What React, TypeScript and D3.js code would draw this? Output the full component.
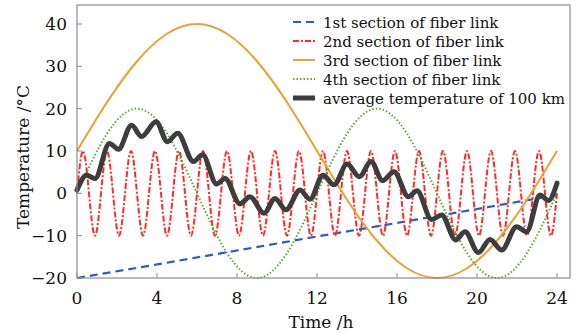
import { useMemo } from "react";
import * as d3 from "d3";

// section 1: slow linear drift (read every 4 h)
const blueTimes = [0, 4, 8, 12, 16, 20, 24];
const blueValues = [-20, -16.8, -13.5, -10.2, -7, -3.7, -0.4];

// section 2: fast oscillation, zero / peak / zero / trough every 0.3 h
const redValues = [
    0, 10, 0, -10, 0, 10, 0, -10, 0, 10, 0, -10, 0, 10, 0, -10, 0, 10, 0, -10,
    0, 10, 0, -10, 0, 10, 0, -10, 0, 10, 0, -10, 0, 10, 0, -10, 0, 10, 0, -10,
    0, 10, 0, -10, 0, 10, 0, -10, 0, 10, 0, -10, 0, 10, 0, -10, 0, 10, 0, -10,
    0, 10, 0, -10, 0, 10, 0, -10, 0, 10, 0, -10, 0, 10, 0, -10, 0, 10, 0, -10,
    0,
];
const redTimes = redValues.map((_, i) => i * 0.3);

// sections 3 and 4, read every 1.5 h
const slowTimes = [0, 1.5, 3, 4.5, 6, 7.5, 9, 10.5, 12, 13.5, 15, 16.5, 18, 19.5, 21, 22.5, 24];
const orangeValues = [10, 21.5, 31.2, 37.7, 40, 37.7, 31.2, 21.5, 10, -1.5, -11.2, -17.7, -20, -17.7, -11.2, -1.5, 10];
const greenValues = [0, 14.1, 20, 14.1, 0, -14.1, -20, -14.1, 0, 14.1, 20, 14.1, 0, -14.1, -20, -14.1, 0];

// average temperature, read at its turning points
const avgTimes = [
    0, 0.48, 0.9, 1.62, 2.07, 2.73, 3.23, 3.95, 4.52, 5.03, 5.82, 6.28, 6.98, 7.4, 8.15, 8.65,
    9.35, 9.9, 10.45, 11.15, 11.65, 12.3, 12.85, 13.5, 14.12, 14.7, 15.28, 15.85, 16.57, 17.0,
    17.73, 18.23, 18.93, 19.4, 20.07, 20.65, 21.23, 21.98, 22.48, 23.15, 23.57, 24,
];
const avgValues = [
    0.8, 4.3, 3.5, 11.8, 10.4, 16.1, 13.4, 16.9, 12.2, 14.2, 7.5, 9.1, 2.2, 3.5, -2.5, -0.8,
    -4.7, -1.2, -3.9, 0.8, -1.4, 4.3, 2.0, 6.9, 3.9, 7.5, 3.0, 5.1, -0.8, 0.6,
    -6.2, -5.1, -11.0, -9.1, -14.0, -10.9, -13.4, -7.9, -9.1, -0.4, -1.7, 2.4,
];

const xTicks = [0, 4, 8, 12, 16, 20, 24];
const yTicks = [-20, -10, 0, 10, 20, 30, 40];

const legendLabels = [
    "1st section of fiber link",
    "2nd section of fiber link",
    "3rd section of fiber link",
    "4th section of fiber link",
    "average temperature of 100 km",
];

const WIDTH = 576;
const HEIGHT = 333;
const FONT = "'DejaVu Serif', serif";

const styles = [
    { color: "#2b5bc6", width: 2.2, dash: "8,5" },
    { color: "#ff2a2a", width: 2, dash: "6,2,2,2" },
    { color: "#e9a233", width: 2, dash: "" },
    { color: "#5aab2e", width: 2, dash: "1.5,2" },
    { color: "#3d3d3d", width: 5, dash: "" },
];

const textStyle = { fontFamily: FONT, fill: "#111" };

export default function App() {
    const x = d3.scaleLinear().domain([0, 24]).range([77, 557]);
    const y = d3.scaleLinear().domain([-20, 40]).range([278, 24]);
    const frame = { left: 77, right: 570, top: 5, bottom: 278 };

    const paths = useMemo(() => {
        const mk = (curve: d3.CurveFactory) =>
            d3.line<[number, number]>().x((d) => x(d[0])).y((d) => y(d[1])).curve(curve);
        const zip = (t: number[], v: number[]) => t.map((ti, i) => [ti, v[i]] as [number, number]);
        return [
            mk(d3.curveLinear)(zip(blueTimes, blueValues)),
            mk(d3.curveNatural)(zip(redTimes, redValues)),
            mk(d3.curveNatural)(zip(slowTimes, orangeValues)),
            mk(d3.curveNatural)(zip(slowTimes, greenValues)),
            mk(d3.curveMonotoneX)(zip(avgTimes, avgValues)),
        ];
    }, []);

    return (
        <svg width={WIDTH} height={HEIGHT} style={{ position: "absolute", left: 0, top: 0, background: "#fff" }}>
            <rect x={0} y={0} width={WIDTH} height={HEIGHT} fill="#fff" />
            {paths.map((d, i) => (
                <path
                    key={i}
                    d={d!}
                    fill="none"
                    stroke={styles[i].color}
                    strokeWidth={styles[i].width}
                    strokeDasharray={styles[i].dash || undefined}
                    strokeLinejoin="round"
                    strokeLinecap={i === 4 ? "round" : "butt"}
                />
            ))}
            <rect
                x={frame.left}
                y={frame.top}
                width={frame.right - frame.left}
                height={frame.bottom - frame.top}
                fill="none"
                stroke="#8c8c8c"
                strokeWidth={1.2}
            />
            {xTicks.map((t) => (
                <g key={"x" + t}>
                    <line x1={x(t)} x2={x(t)} y1={frame.bottom} y2={frame.bottom - 5} stroke="#8c8c8c" />
                    <text x={x(t)} y={304} textAnchor="middle" style={{ ...textStyle, fontSize: 17 }}>
                        {t}
                    </text>
                </g>
            ))}
            {yTicks.map((t) => (
                <g key={"y" + t}>
                    <line x1={frame.left} x2={frame.left + 5} y1={y(t)} y2={y(t)} stroke="#8c8c8c" />
                    <text x={67} y={y(t) + 6} textAnchor="end" style={{ ...textStyle, fontSize: 17 }}>
                        {t < 0 ? "\u2212" + Math.abs(t) : t}
                    </text>
                </g>
            ))}
            <text x={321} y={328} textAnchor="middle" style={{ ...textStyle, fontSize: 17 }}>
                Time /h
            </text>
            <text transform="translate(29,157) rotate(-90)" textAnchor="middle" style={{ ...textStyle, fontSize: 17 }}>
                Temperature /°C
            </text>
            {legendLabels.map((label, i) => {
                const ly = 22 + i * 19;
                return (
                    <g key={label}>
                        <line
                            x1={293}
                            x2={315}
                            y1={ly}
                            y2={ly}
                            stroke={styles[i].color}
                            strokeWidth={styles[i].width}
                            strokeDasharray={styles[i].dash || undefined}
                        />
                        <text x={323} y={ly + 6} style={{ ...textStyle, fontSize: 15 }}>
                            {label}
                        </text>
                    </g>
                );
            })}
        </svg>
    );
}
